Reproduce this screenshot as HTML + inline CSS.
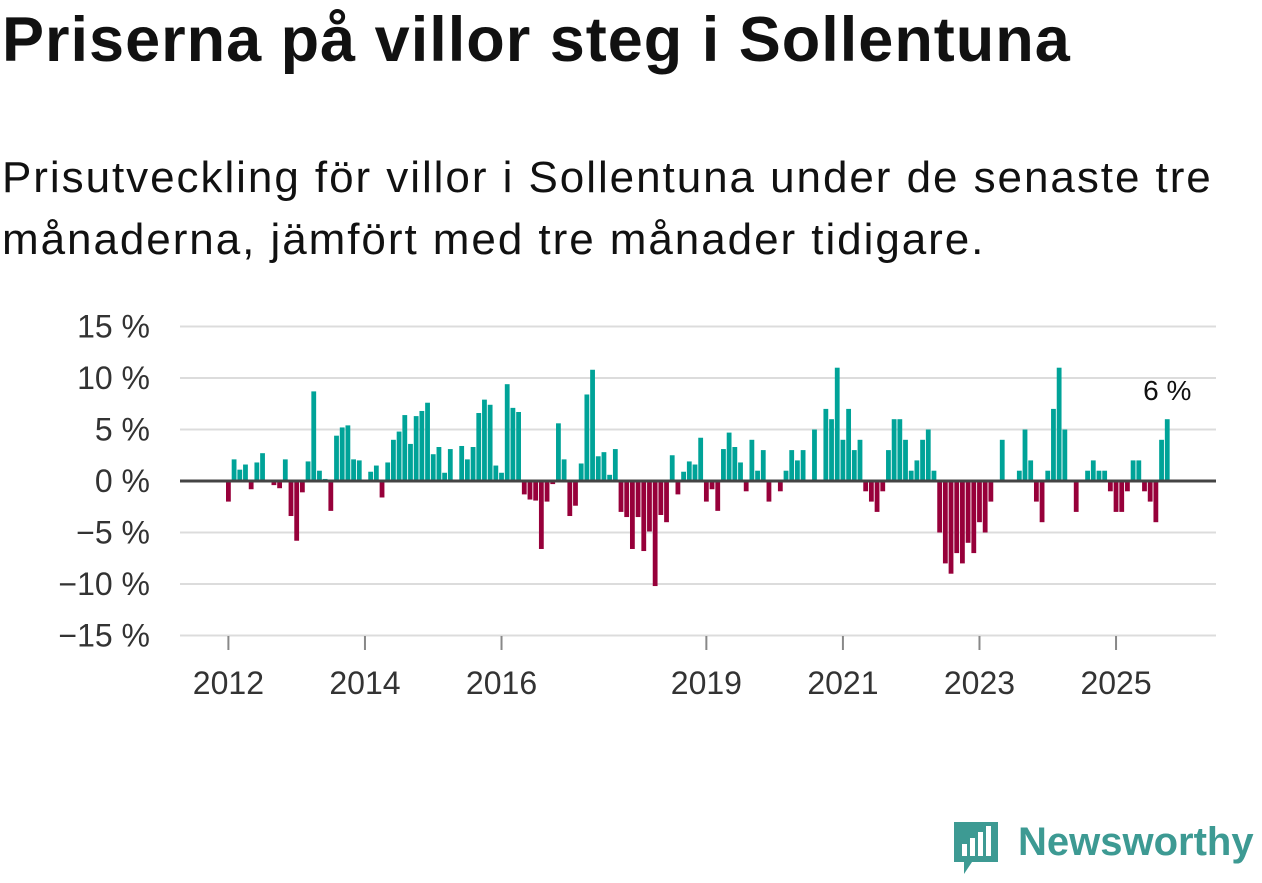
<!DOCTYPE html>
<html><head><meta charset="utf-8"><style>
body{margin:0;width:1262px;height:879px;background:#fff;font-family:"Liberation Sans",sans-serif;color:#111;overflow:hidden;position:relative}
#t{position:absolute;left:2px;top:4px;font-size:63px;font-weight:bold;letter-spacing:1px;white-space:nowrap}
#s{position:absolute;left:2px;top:147px;font-size:44px;line-height:62px;width:1250px;letter-spacing:1.95px}
</style></head><body>
<div id="t">Priserna på villor steg i Sollentuna</div>
<div id="s">Prisutveckling för villor i Sollentuna under de senaste tre<br>månaderna, jämfört med tre månader tidigare.</div>
<svg id="c" width="1262" height="879" style="position:absolute;left:0;top:0"></svg>
<div style="position:absolute;left:952px;top:818px;height:60px">
<svg width="48" height="60"><path d="M2 4h44v40H20l-8 12v-12H2z" fill="#3d9a93"/><rect x="10" y="26" width="5" height="12" fill="#fff"/><rect x="18" y="20" width="5" height="18" fill="#fff"/><rect x="26" y="14" width="5" height="24" fill="#fff"/><rect x="34" y="8" width="5" height="30" fill="#fff"/></svg>
<span style="position:absolute;left:66px;top:2px;font-size:40px;font-weight:bold;color:#3d9a93;white-space:nowrap">Newsworthy</span></div>
<script>
const values=[-2,2.1,1.1,1.6,-0.8,1.8,2.7,0,-0.4,-0.7,2.1,-3.4,-5.8,-1.1,1.9,8.7,1.0,0.2,-2.9,4.4,5.2,5.4,2.1,2.0,0,0.9,1.5,-1.6,1.8,4.0,4.8,6.4,3.6,6.3,6.8,7.6,2.6,3.3,0.8,3.1,0,3.4,2.1,3.3,6.6,7.9,7.4,1.5,0.8,9.4,7.1,6.7,-1.3,-1.8,-1.9,-6.6,-2.0,-0.3,5.6,2.1,-3.4,-2.4,1.7,8.4,10.8,2.4,2.8,0.6,3.1,-3.0,-3.5,-6.6,-3.5,-6.8,-4.9,-10.2,-3.3,-4.0,2.5,-1.3,0.9,1.9,1.6,4.2,-2,-0.8,-2.9,3.1,4.7,3.3,1.8,-1,4,1,3,-2,0,-1,1,3,2,3,0,5,0,7,6,11,4,7,3,4,-1,-2,-3,-1,3,6,6,4,1,2,4,5,1,-5,-8,-9,-7,-8,-6,-7,-4,-5,-2,0,4,0,0,1,5,2,-2,-4,1,7,11,5,0,-3,0,1,2,1,1,-1,-3,-3,-1,2,2,-1,-2,-4,4,6];
const yTicks=[15,10,5,0,-5,-10,-15];
const yLabels=["15 %","10 %","5 %","0 %","\u22125 %","\u221210 %","\u221215 %"];
const xYears=[2012,2014,2016,2019,2021,2023,2025];
const startYear=2012;
const lastLabel="6 %";
const svg=document.getElementById('c');const NS="http://www.w3.org/2000/svg";
const y=v=>481-v*10.3;
const x=m=>226+m*5.69;
function mk(t,a,txt){const e=document.createElementNS(NS,t);for(const k in a)e.setAttribute(k,a[k]);if(txt!=null)e.textContent=txt;svg.appendChild(e);return e;}
yTicks.forEach((v,i)=>{
 if(v!==0){const g=mk('line',{x1:180,x2:1216,y1:y(v),y2:y(v),stroke:'#dcdcdc','stroke-width':2});
 
 }
 const t=mk('text',{x:150,y:y(v)+11,'text-anchor':'end','font-size':32,fill:'#333','font-family':'Liberation Sans, sans-serif'},yLabels[i]);
 
 
});
values.forEach((v,m)=>{
 if(v===0)return;
 const r=mk('rect',{x:x(m),width:4.8,y:v>0?y(v):y(0),height:Math.abs(v)*10.3,fill:v>0?'#00a398':'#97003a'});
 
 
});
const z=mk('line',{x1:180,x2:1216,y1:y(0),y2:y(0),stroke:'#444','stroke-width':3});


xYears.forEach(yr=>{
 const cx=x((yr-startYear)*12)+2.4;
 const tk=mk('line',{x1:cx,x2:cx,y1:636,y2:650,stroke:'#888','stroke-width':2});
 
 
 const t=mk('text',{x:cx,y:694,'text-anchor':'middle','font-size':32,fill:'#333','font-family':'Liberation Sans, sans-serif'},String(yr));
 
 
});
const li=values.length-1;
const lb=mk('text',{x:x(li)+2.4,y:400,'text-anchor':'middle','font-size':28,fill:'#111','font-family':'Liberation Sans, sans-serif'},lastLabel);


</script>
</body></html>
